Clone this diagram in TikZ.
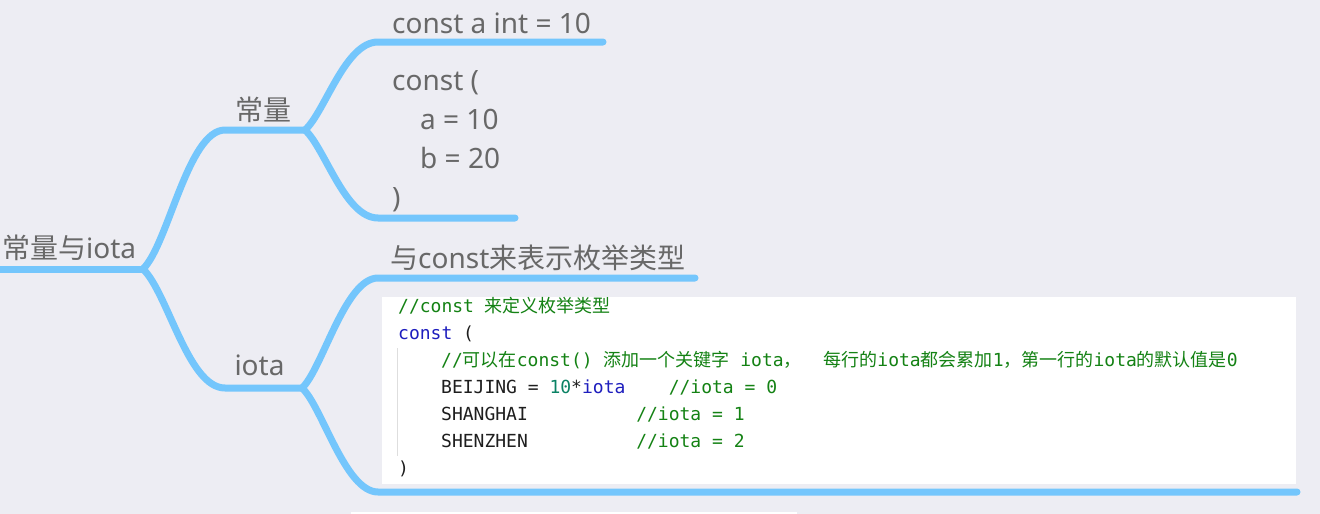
\documentclass[tikz,border=0pt]{standalone}
\usepackage{fontspec}
\setmainfont{Noto Sans}
\setmonofont{DejaVu Sans Mono}
\newfontfamily\cjk{Noto Sans CJK SC}
\definecolor{bgc}{RGB}{237,237,243}
\definecolor{branch}{RGB}{116,198,252}
\definecolor{mtext}{RGB}{104,104,104}
\definecolor{cgreen}{RGB}{20,130,20}
\definecolor{cblue}{RGB}{30,30,190}
\definecolor{cteal}{RGB}{10,130,100}
\definecolor{cdark}{RGB}{30,30,30}
\definecolor{guide}{RGB}{222,222,222}
\tikzset{
  br/.style={draw=branch, line width=7pt, line cap=round, line join=round},
  mm/.style={inner sep=0pt, anchor=base west, text=mtext, font=\fontsize{28}{34}\selectfont},
  code/.style={inner sep=0pt, anchor=base west, text=cdark, font=\fontsize{18}{22}\selectfont\ttfamily},
}
\newcommand{\cm}[1]{{\color{cgreen}#1}}
\newcommand{\kw}[1]{{\color{cblue}#1}}
\newcommand{\nm}[1]{{\color{cteal}#1}}
\newcommand{\zh}[1]{{\cjk #1}}
\begin{document}
\begin{tikzpicture}[x=1pt, y=-1pt]
\fill[bgc] (0,0) rectangle (1320,514);
\useasboundingbox (0,0) rectangle (1320,514);
% code box
\fill[white] (382,297) rectangle (1296,484);
\fill[white] (351,512) rectangle (797,514);
\draw[guide, line width=1pt] (397,348) -- (397,456);
% branch points
\coordinate (r0) at (0,269);
\coordinate (rp) at (143,269);
\coordinate (c1) at (225,130);
\coordinate (cp) at (305,130);
\coordinate (i1) at (225,388);
\coordinate (ip) at (302,388);
\coordinate (a1) at (378,42);
\coordinate (a2) at (603,42);
\coordinate (b1) at (378,218);
\coordinate (b2) at (515,218);
\coordinate (d1) at (378,278);
\coordinate (d2) at (695,278);
\coordinate (e1) at (378,492);
\coordinate (e2) at (1297,492);
% branches
\draw[br] (r0) -- (rp);
\draw[br] (rp) .. controls (168,245) and (188,130) .. (c1) -- (cp);
\draw[br] (rp) .. controls (168,293) and (188,388) .. (i1) -- (ip);
\draw[br] (cp) .. controls (325,112) and (345,42) .. (a1) -- (a2);
\draw[br] (cp) .. controls (325,148) and (345,218) .. (b1) -- (b2);
\draw[br] (ip) .. controls (322,370) and (345,278) .. (d1) -- (d2);
\draw[br] (ip) .. controls (322,406) and (345,492) .. (e1) -- (e2);
% mind map labels
\node[mm] (root) at (2,258) {\zh{常量与}iota};
\node[mm, anchor=base] (cl) at (263,120) {\zh{常量}};
\node[mm, anchor=base] (io) at (259.5,375) {iota};
\node[mm] (t1) at (392,33) {const a int = 10};
\node[mm] (t2) at (392,90) {const (};
\node[mm] (t3) at (420,129) {a = 10};
\node[mm] (t4) at (420,168) {b = 20};
\node[mm] (t5) at (392,207) {)};
\node[mm] (t6) at (390,268) {\zh{与}const\zh{来表示枚举类型}};
% code
\node[code] (k1) at (398,312) {\cm{//const~\zh{来定义枚举类型}}};
\node[code] (k2) at (398,339) {\kw{const}~(};
\node[code] (k3) at (441,366) {\cm{//\zh{可以在}const()~\zh{添加一个关键字}~iota\zh{，}~~\zh{每行的}iota\zh{都会累加}1\zh{，第一行的}iota\zh{的默认值是}0}};
\node[code] (k4) at (441,393) {BEIJING~=~\nm{10}*\kw{iota}~~~~\cm{//iota~=~0}};
\node[code] (k5) at (441,420) {SHANGHAI~~~~~~~~~~\cm{//iota~=~1}};
\node[code] (k6) at (441,447) {SHENZHEN~~~~~~~~~~\cm{//iota~=~2}};
\node[code] (k7) at (398,474) {)};
\end{tikzpicture}
\end{document}
